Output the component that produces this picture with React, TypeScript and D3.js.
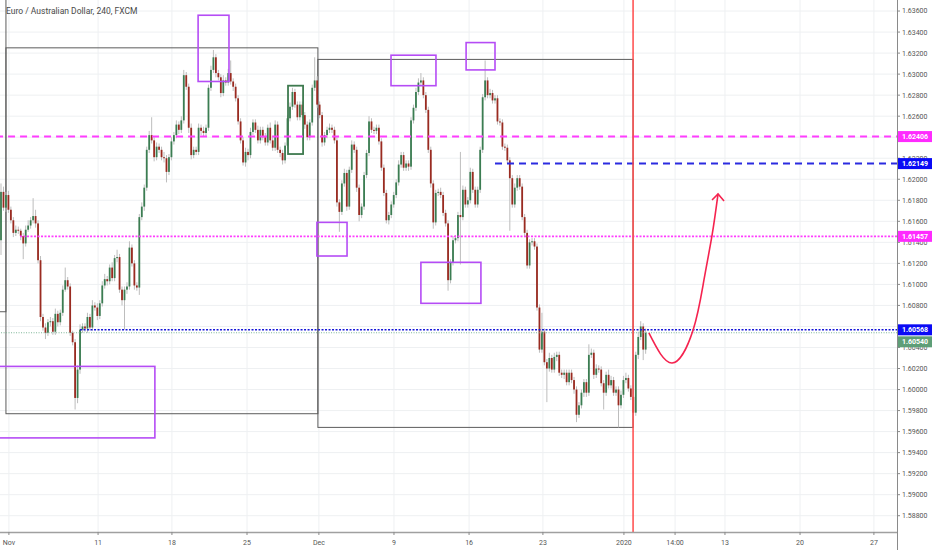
import { useEffect, useRef } from 'react';
import * as d3 from 'd3';

// EUR/AUD 4H candles (FXCM), Nov 2019 - Jan 2020
const firstOpen = 1.6142;
const closes = [
  1.6188, 1.6173, 1.6185, 1.6171, 1.6161, 1.6149, 1.6152, 1.6151, 1.6146, 1.6139, 1.6152, 1.6156, 1.6161, 1.6165, 1.6158, 1.6123, 1.6069, 1.6059, 1.6054, 1.6064,
  1.6065, 1.6055, 1.6072, 1.6064, 1.6073, 1.6095, 1.6104, 1.6098, 1.6054, 1.6045, 1.5992, 1.6019, 1.6057, 1.6060, 1.6058, 1.6069, 1.6059, 1.6080, 1.6078, 1.6070,
  1.6082, 1.6099, 1.6105, 1.6103, 1.6116, 1.6106, 1.6125, 1.6126, 1.6095, 1.6085, 1.6095, 1.6098, 1.6135, 1.6120, 1.6099, 1.6097, 1.6164, 1.6174, 1.6192, 1.6228,
  1.6242, 1.6237, 1.6221, 1.6231, 1.6228, 1.6221, 1.6220, 1.6207, 1.6221, 1.6236, 1.6242, 1.6252, 1.6247, 1.6256, 1.6299, 1.6288, 1.6249, 1.6223, 1.6228, 1.6226,
  1.6249, 1.6246, 1.6244, 1.6249, 1.6287, 1.6304, 1.6316, 1.6301, 1.6297, 1.6282, 1.6294, 1.6292, 1.6301, 1.6293, 1.6288, 1.6277, 1.6255, 1.6237, 1.6216, 1.6226,
  1.6223, 1.6245, 1.6254, 1.6247, 1.6237, 1.6247, 1.6240, 1.6235, 1.6249, 1.6237, 1.6230, 1.6252, 1.6228, 1.6225, 1.6218, 1.6232, 1.6258, 1.6269, 1.6283, 1.6271,
  1.6259, 1.6271, 1.6261, 1.6252, 1.6240, 1.6254, 1.6287, 1.6294, 1.6271, 1.6261, 1.6235, 1.6242, 1.6247, 1.6249, 1.6247, 1.6237, 1.6178, 1.6169, 1.6196, 1.6206,
  1.6174, 1.6209, 1.6233, 1.6228, 1.6192, 1.6166, 1.6174, 1.6204, 1.6225, 1.6255, 1.6247, 1.6246, 1.6249, 1.6236, 1.6211, 1.6187, 1.6161, 1.6166, 1.6176, 1.6185,
  1.6197, 1.6214, 1.6223, 1.6211, 1.6215, 1.6212, 1.6256, 1.6268, 1.6283, 1.6292, 1.6294, 1.6280, 1.6266, 1.6228, 1.6196, 1.6159, 1.6187, 1.6188, 1.6185, 1.6168,
  1.6158, 1.6104, 1.6121, 1.6142, 1.6144, 1.6166, 1.6164, 1.6190, 1.6176, 1.6180, 1.6207, 1.6190, 1.6176, 1.6190, 1.6228, 1.6278, 1.6294, 1.6280, 1.6282, 1.6275,
  1.6277, 1.6255, 1.6254, 1.6231, 1.6230, 1.6218, 1.6201, 1.6176, 1.6192, 1.6201, 1.6193, 1.6164, 1.6149, 1.6118, 1.6140, 1.6141, 1.6136, 1.6078, 1.6038, 1.6055,
  1.6026, 1.6020, 1.6030, 1.6019, 1.6031, 1.6033, 1.6016, 1.6014, 1.6016, 1.6007, 1.6016, 1.6009, 1.6000, 1.5976, 1.5985, 1.5997, 1.6007, 1.5997, 1.6033, 1.6035,
  1.6014, 1.6020, 1.6019, 1.6006, 1.5997, 1.6014, 1.6004, 1.6009, 1.5997, 1.6000, 1.5985, 1.5995, 1.6009, 1.6011, 1.6001, 1.5993, 1.5978, 1.6033, 1.6050, 1.6060,
  1.6038, 1.6054,
];
// wick lengths in pips beyond the body
const upWick = [
  8, 5, 3, 4, 3, 3, 4, 3, 2, 3, 4, 5, 3, 17, 6, 3, 4, 3, 4, 3,
  4, 3, 5, 3, 3, 4, 12, 3, 3, 2, 3, 4, 5, 3, 3, 4, 3, 5, 3, 4,
  3, 4, 5, 3, 3, 5, 3, 7, 3, 3, 3, 4, 6, 3, 3, 3, 3, 4, 3, 3,
  4, 17, 3, 4, 3, 3, 5, 3, 3, 4, 3, 4, 3, 4, 5, 3, 3, 4, 3, 3,
  4, 3, 4, 3, 3, 4, 7, 3, 3, 3, 5, 3, 4, 12, 3, 3, 3, 3, 3, 4,
  3, 4, 3, 3, 4, 3, 3, 4, 3, 5, 3, 4, 3, 3, 3, 3, 3, 4, 4, 3,
  3, 3, 3, 3, 3, 3, 3, 22, 4, 3, 3, 3, 3, 4, 3, 3, 3, 3, 3, 4,
  3, 3, 4, 3, 3, 3, 3, 3, 3, 5, 3, 3, 3, 3, 3, 3, 3, 3, 3, 3,
  3, 4, 3, 3, 3, 3, 3, 3, 4, 4, 7, 3, 3, 3, 3, 3, 3, 3, 4, 3,
  3, 3, 3, 4, 3, 3, 60, 4, 3, 3, 4, 3, 3, 3, 3, 3, 19, 3, 4, 3,
  3, 3, 3, 3, 3, 3, 3, 3, 4, 3, 3, 3, 3, 3, 3, 3, 3, 3, 3, 18,
  3, 3, 5, 3, 4, 3, 3, 3, 3, 3, 3, 3, 3, 3, 3, 3, 3, 3, 10, 4,
  3, 4, 3, 3, 3, 3, 5, 4, 3, 3, 3, 4, 4, 5, 3, 3, 3, 3, 5, 5,
  3, 4,
];
const downWick = [
  14, 3, 4, 3, 3, 4, 3, 3, 4, 15, 3, 2, 3, 3, 4, 3, 4, 3, 6, 3,
  4, 3, 3, 4, 3, 3, 2, 3, 3, 3, 11, 5, 4, 3, 3, 4, 3, 3, 3, 4,
  3, 3, 3, 4, 3, 3, 3, 4, 3, 5, 28, 4, 3, 3, 4, 3, 7, 3, 4, 3,
  3, 3, 4, 3, 3, 3, 4, 10, 3, 3, 3, 3, 4, 3, 3, 3, 5, 4, 3, 3,
  3, 4, 3, 3, 3, 3, 3, 4, 3, 4, 3, 3, 3, 3, 4, 3, 3, 3, 3, 4,
  5, 3, 3, 3, 3, 3, 3, 3, 3, 3, 3, 3, 3, 4, 4, 3, 3, 3, 3, 3,
  3, 3, 3, 4, 3, 3, 3, 3, 3, 3, 4, 3, 3, 3, 3, 3, 4, 19, 3, 3,
  4, 3, 3, 3, 4, 6, 3, 3, 3, 3, 3, 3, 3, 3, 3, 3, 3, 4, 3, 3,
  3, 3, 3, 3, 3, 4, 3, 3, 3, 3, 3, 3, 3, 3, 4, 6, 3, 3, 3, 3,
  3, 10, 3, 3, 3, 3, 45, 3, 3, 3, 3, 3, 3, 3, 3, 3, 3, 3, 3, 3,
  3, 3, 3, 3, 3, 3, 50, 3, 3, 3, 3, 3, 4, 3, 3, 3, 3, 3, 3, 3,
  3, 32, 3, 3, 3, 4, 3, 3, 4, 3, 3, 3, 4, 7, 3, 3, 4, 4, 3, 3,
  4, 3, 3, 3, 16, 3, 3, 3, 3, 3, 21, 3, 3, 3, 3, 3, 6, 3, 4, 3,
  10, 4,
];

const timeLabels = ['Nov', '11', '18', '25', 'Dec', '9', '16', '23', '2020', '14:00', '13', '20', '27'];
const timeLabelBars = [3.2, 39.3, 69.2, 99.6, 128.7, 159.1, 189.5, 219.4, 252.2, 272.9, 293.1, 323.5, 353.4];
const priceTicks = [1.588, 1.590, 1.592, 1.594, 1.596, 1.598, 1.600, 1.602, 1.604, 1.606, 1.608, 1.610,
  1.612, 1.614, 1.616, 1.618, 1.620, 1.622, 1.624, 1.626, 1.628, 1.630, 1.632, 1.634, 1.636];

// drawings: [fromBar, toBar, topPrice, bottomPrice]
const greyBoxes = [
  [-20, 2, 1.6450, 1.6074],
  [2, 128.3, 1.6325, 1.5977],
  [128.3, 255.9, 1.6314, 1.5964],
];
const purpleBoxes = [
  [79.8, 92.3, 1.6356, 1.6293],
  [-1, 62.3, 1.6022, 1.5954],
  [127.9, 140.1, 1.6159, 1.6127],
  [157.9, 176.1, 1.6318, 1.6289],
  [188.3, 200, 1.6330, 1.6304],
  [170, 194.3, 1.6121, 1.6082],
];
const greenBoxes = [[116.2, 122.3, 1.6289, 1.6224]];

const levelNames = ['pinkDash', 'blueDash', 'pinkDot', 'blueDot', 'last'];
const levelPrices = [1.62406, 1.62149, 1.61457, 1.60568, 1.6054];
const levelStartBars = [-2, 200, 7.7, 32, -2];

const markerBar = 255.9;
const pathBars = [262.3, 271.7, 280.2, 284.6, 287.9, 290.3];
const pathPrices = [1.60538, 1.60252, 1.60566, 1.61042, 1.6147, 1.6186];

const levelStyle: Record<string, { color: string; dash: string; width: number; tag: string }> = {
  pinkDash: { color: '#ff3dff', dash: '7,5', width: 2, tag: '#ff2bff' },
  blueDash: { color: '#2b2be0', dash: '7,5', width: 2, tag: '#0a0af5' },
  pinkDot: { color: '#ff3dff', dash: '2,1.5', width: 1.6, tag: '#ff2bff' },
  blueDot: { color: '#1515d8', dash: '2,1.5', width: 1.6, tag: '#0a0af5' },
  last: { color: '#7db597', dash: '1,1.5', width: 1, tag: '#5e9e77' },
};

const App = () => {
  const svgRef = useRef<SVGSVGElement | null>(null);

  useEffect(() => {
    if (!svgRef.current) return;
    document.body.style.margin = '0';
    const width = 932;
    const height = 550;
    const plotW = 897;
    const plotH = 532;
    const tagH = 11;
    const svg = d3.select(svgRef.current).attr('width', width).attr('height', height);
    svg.selectAll('*').remove();

    const x = d3.scaleLinear().domain([0, 363]).range([1, 1 + 363 * 2.47]);
    const y = d3.scaleLinear().domain([1.58645, 1.63705]).range([plotH, 0]);

    svg.append('rect').attr('width', width).attr('height', height).attr('fill', '#fff');
    svg.append('clipPath').attr('id', 'plot').append('rect').attr('width', plotW).attr('height', plotH);

    const g = svg.append('g').attr('clip-path', 'url(#plot)');

    // grid
    g.selectAll('line.hg').data(priceTicks).enter().append('line')
      .attr('x1', 0).attr('x2', plotW).attr('y1', d => y(d)).attr('y2', d => y(d))
      .attr('stroke', '#eef0f2').attr('stroke-width', 1);
    g.selectAll('line.vg').data(timeLabelBars).enter().append('line')
      .attr('x1', d => x(d)).attr('x2', d => x(d)).attr('y1', 0).attr('y2', plotH)
      .attr('stroke', '#eef0f2').attr('stroke-width', 1);

    // title
    svg.append('text').attr('x', 6).attr('y', 14)
      .attr('font-family', 'Roboto, sans-serif').attr('font-size', 8.5).attr('fill', '#4a4a4a')
      .text('Euro / Australian Dollar, 240, FXCM');

    const drawBoxes = (boxes: number[][], color: string, w: number) => {
      g.append('g').selectAll('rect').data(boxes).enter().append('rect')
        .attr('x', d => x(d[0])).attr('width', d => x(d[1]) - x(d[0]))
        .attr('y', d => y(d[2])).attr('height', d => y(d[3]) - y(d[2]))
        .attr('fill', 'none').attr('stroke', color).attr('stroke-width', w);
    };
    drawBoxes(greyBoxes, '#5c5c5c', 1);

    // candles
    const candles = closes.map((c, i) => {
      const o = i === 0 ? firstOpen : closes[i - 1];
      return {
        i, o, c,
        hi: Math.max(o, c) + upWick[i] / 10000,
        lo: Math.min(o, c) - downWick[i] / 10000,
      };
    });
    const cg = g.append('g');
    cg.selectAll('line').data(candles).enter().append('line')
      .attr('x1', d => x(d.i)).attr('x2', d => x(d.i))
      .attr('y1', d => y(d.hi)).attr('y2', d => y(d.lo))
      .attr('stroke', '#bdbdbd').attr('stroke-width', 1);
    cg.selectAll('rect').data(candles).enter().append('rect')
      .attr('x', d => x(d.i) - 0.9).attr('width', 1.8)
      .attr('y', d => y(Math.max(d.o, d.c)))
      .attr('height', d => Math.max(1, Math.abs(y(d.o) - y(d.c))))
      .attr('fill', d => (d.c >= d.o ? '#3b7d52' : '#9a2b21'));

    drawBoxes(greenBoxes, '#3e7a4f', 1.8);
    drawBoxes(purpleBoxes, '#b54cf5', 1.6);

    // horizontal levels
    levelNames.forEach((name, k) => {
      const s = levelStyle[name];
      g.append('line')
        .attr('x1', x(levelStartBars[k])).attr('x2', plotW)
        .attr('y1', y(levelPrices[k])).attr('y2', y(levelPrices[k]))
        .attr('stroke', s.color).attr('stroke-width', s.width).attr('stroke-dasharray', s.dash);
    });

    // vertical marker
    g.append('line').attr('x1', x(markerBar)).attr('x2', x(markerBar)).attr('y1', 0).attr('y2', plotH)
      .attr('stroke', '#ff4a4a').attr('stroke-width', 1.5);

    // projected path with arrow
    const pts: [number, number][] = pathBars.map((b, k) => [x(b), y(pathPrices[k])]);
    const line = d3.line().curve(d3.curveNatural);
    g.append('path').attr('d', line(pts) as string).attr('fill', 'none')
      .attr('stroke', '#f5234f').attr('stroke-width', 1.6);
    const tip = pts[pts.length - 1];
    g.append('path')
      .attr('d', `M${tip[0] - 6},${tip[1] + 6}L${tip[0]},${tip[1]}L${tip[0] + 6},${tip[1] + 7}`)
      .attr('fill', 'none').attr('stroke', '#f5234f').attr('stroke-width', 1.6);

    // axes
    svg.append('line').attr('x1', 0).attr('x2', plotW).attr('y1', plotH + 0.5).attr('y2', plotH + 0.5)
      .attr('stroke', '#a0a0a0').attr('stroke-width', 1.5);
    svg.append('line').attr('x1', plotW + 0.5).attr('x2', plotW + 0.5).attr('y1', 0).attr('y2', height)
      .attr('stroke', '#8a8a8a').attr('stroke-width', 1);

    // tag positions, pushed apart where they would collide
    const tagYs: number[] = [];
    const order = levelPrices.map((_p, k) => k).sort((a, b) => y(levelPrices[a]) - y(levelPrices[b]));
    let prevY = -100;
    order.forEach(k => {
      const yy = Math.max(y(levelPrices[k]), prevY + tagH + 1);
      tagYs[k] = yy;
      prevY = yy;
    });

    const axisFont = 'Roboto, sans-serif';
    // tick labels fully covered by a tag are not drawn
    const visibleTicks = priceTicks.filter(p => tagYs.every(t => Math.abs(y(p) - t) > 4.5));
    svg.selectAll('line.pt').data(priceTicks).enter().append('line')
      .attr('x1', plotW).attr('x2', plotW + 3).attr('y1', d => y(d)).attr('y2', d => y(d))
      .attr('stroke', '#8a8a8a');
    svg.selectAll('text.pt').data(visibleTicks).enter().append('text')
      .attr('x', plotW + 5).attr('y', d => y(d)).attr('dy', '0.35em')
      .attr('font-family', axisFont).attr('font-size', 7).attr('fill', '#555')
      .text(d => d.toFixed(5));

    svg.selectAll('line.tt').data(timeLabelBars).enter().append('line')
      .attr('x1', d => x(d)).attr('x2', d => x(d)).attr('y1', plotH).attr('y2', plotH + 3)
      .attr('stroke', '#8a8a8a');
    svg.selectAll('text.tt').data(timeLabels).enter().append('text')
      .attr('x', (_d, k) => x(timeLabelBars[k])).attr('y', plotH + 13)
      .attr('text-anchor', 'middle')
      .attr('font-family', axisFont).attr('font-size', 7).attr('fill', '#555')
      .text(d => d);

    // price tags
    levelNames.forEach((name, k) => {
      const s = levelStyle[name];
      const yy = tagYs[k];
      svg.append('rect').attr('x', plotW + 1).attr('y', yy - tagH / 2).attr('width', width - plotW - 1).attr('height', tagH)
        .attr('fill', s.tag);
      svg.append('text').attr('x', plotW + 5).attr('y', yy).attr('dy', '0.35em')
        .attr('font-family', axisFont).attr('font-size', 7).attr('font-weight', 'bold').attr('fill', '#fff')
        .text(levelPrices[k].toFixed(5));
    });
  }, []);

  return <svg ref={svgRef}></svg>;
};

export default App;
